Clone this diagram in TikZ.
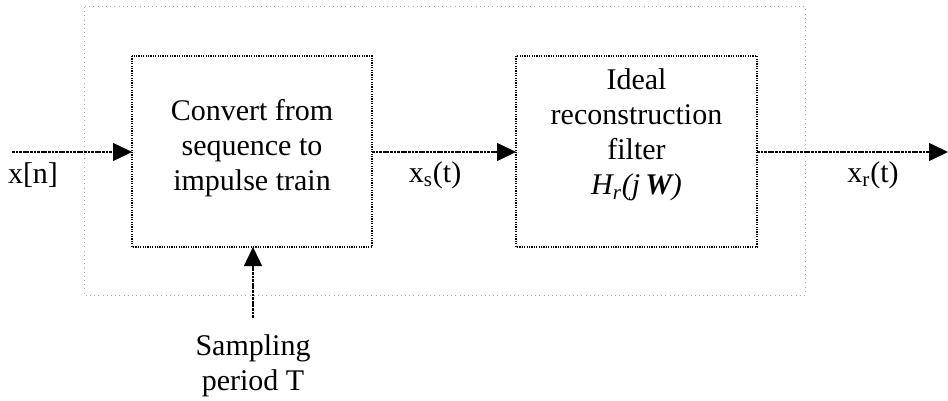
\documentclass[tikz,border=0pt]{standalone}
\usepackage{fontspec}
\setmainfont{Liberation Serif}
\usetikzlibrary{arrows.meta}
\begin{document}
\begin{tikzpicture}[x=0.5pt,y=-0.5pt,
  font=\fontsize{15}{17.5}\selectfont,
  blockbox/.style={draw=black,line width=0.7pt,dash pattern=on 0.6pt off 0.6pt},
  outerbox/.style={draw=black!35,line width=0.5pt,dash pattern=on 0.5pt off 1.6pt},
  sig/.style={line width=0.7pt,dash pattern=on 1.4pt off 0.4pt,
    -{Triangle[length=9.5pt,width=9pt]}},
  lbl/.style={inner sep=0pt,align=center}]
\useasboundingbox (0,0) rectangle (948,401);
% enclosing system boundary
\draw[outerbox] (84,7) rectangle (805,295);
% processing blocks
\path[blockbox] (132,56) rectangle (372,247);
\path[blockbox] (516,56) rectangle (757,247);
\coordinate (b1w) at (132,152);
\coordinate (b1e) at (372,152);
\coordinate (b1s) at (253,247);
\coordinate (b2w) at (516,152);
\coordinate (b2e) at (757,152);
\node[lbl] (t1) at (252,148) {Convert from\\sequence to\\impulse train};
\node[lbl] (t2) at (636.5,135) {Ideal\\reconstruction\\filter\\{\itshape H\textsubscript{r}(j\,\textbf{W})}};
% signal paths
\coordinate (in) at (12,152);
\coordinate (out) at (948,152);
\coordinate (tin) at (253,318);
\draw[sig] (in) -- (b1w);
\draw[sig] (b1e) -- (b2w);
\draw[sig] (b2e) -- (out);
\draw[sig] (tin) -- (b1s);
% signal labels
\node[lbl] (xn) at (33,175) {x[n]};
\node[lbl] (xs) at (435,175) {x\textsubscript{s}(t)};
\node[lbl] (xr) at (873,175) {x\textsubscript{r}(t)};
\node[lbl,below] (T) at (253,334) {Sampling\\period T};
\end{tikzpicture}
\end{document}
